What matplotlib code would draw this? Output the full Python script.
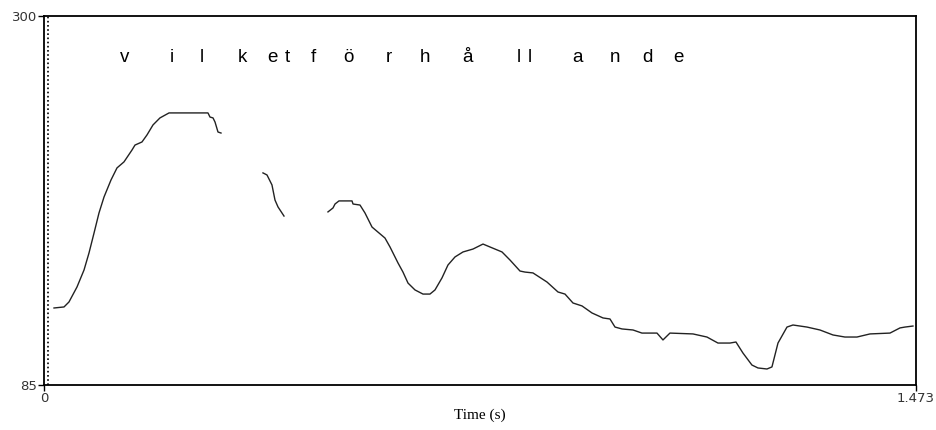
import matplotlib
matplotlib.use("Agg")
import matplotlib.pyplot as plt

# pitch contour (Hz) against time (s), three voiced stretches
t1 = [0.0169, 0.0338, 0.0422, 0.0557, 0.0676, 0.0760, 0.0845, 0.0929, 0.1014,
      0.1132, 0.1233, 0.1351, 0.1486, 0.1537, 0.1655, 0.1740, 0.1841, 0.1959,
      0.2112, 0.2770, 0.2804, 0.2855, 0.2889, 0.2939, 0.2990]
f1 = [130.1, 130.7, 133.6, 142.3, 152.2, 162.1, 173.7, 185.4, 194.7,
      204.6, 211.6, 215.1, 222.0, 224.9, 226.7, 230.8, 236.6, 240.7,
      243.6, 243.6, 241.2, 240.7, 238.3, 232.5, 231.9]

t2 = [0.3699, 0.3767, 0.3851, 0.3902, 0.3953, 0.4054]
f2 = [208.7, 207.5, 201.7, 192.9, 188.9, 183.6]

t3 = [0.4797, 0.4882, 0.4916, 0.4983, 0.5203, 0.5220, 0.5338, 0.5422, 0.5541,
      0.5760, 0.5845, 0.5980, 0.6064, 0.6149, 0.6267, 0.6402, 0.6520, 0.6605,
      0.6723, 0.6824, 0.6943, 0.7078, 0.7247, 0.7416, 0.7534, 0.7737, 0.7872,
      0.8041, 0.8125, 0.8260, 0.8497, 0.8683, 0.8801, 0.8936, 0.9088, 0.9257,
      0.9443, 0.9561, 0.9646, 0.9764, 0.9950, 1.0101, 1.0355, 1.0456, 1.0574,
      1.0963, 1.1199, 1.1385, 1.1588, 1.1689, 1.1807, 1.1959, 1.2061, 1.2213,
      1.2297, 1.2399, 1.2551, 1.2652, 1.2889, 1.3108, 1.3328, 1.3530, 1.3733,
      1.3953, 1.4291, 1.4460, 1.4544, 1.4679]
f3 = [186.0, 188.3, 190.6, 192.4, 192.4, 190.6, 190.0, 185.4, 177.2,
      170.8, 165.6, 156.3, 151.0, 144.6, 140.6, 138.2, 138.2, 140.6,
      147.6, 155.1, 159.8, 162.7, 164.4, 167.3, 165.6, 162.7, 158.0,
      151.6, 151.0, 150.5, 145.2, 139.4, 138.2, 133.0, 131.3, 127.2,
      124.3, 123.7, 119.0, 117.9, 117.3, 115.5, 115.5, 111.5, 115.5,
      115.0, 113.2, 109.7, 109.7, 110.3, 103.9, 96.9, 95.2, 94.6,
      95.8, 109.7, 119.0, 120.2, 119.0, 117.3, 114.4, 113.2, 113.2,
      115.0, 115.5, 118.5, 119.0, 119.6]

# segment labels and their time positions
letters = ["v", "i", "l", "k", "e", "t", "f", "ö", "r", "h", "å", "l", "l",
           "a", "n", "d", "e"]
letter_t = [0.1368, 0.2162, 0.2669, 0.3345, 0.3851, 0.4105, 0.4544, 0.5135,
            0.5828, 0.6436, 0.7162, 0.8024, 0.8210, 0.9020, 0.9646, 1.0186,
            1.0710]
letter_f = 276

t_max = 1.473
f_min, f_max = 85, 300

fig = plt.figure(figsize=(9.37, 4.30), dpi=100)
ax = fig.add_axes([0.04696, 0.1035, 0.9306, 0.8593])

for t, f in [(t1, f1), (t2, f2), (t3, f3)]:
    ax.plot(t, f, color="#222222", lw=1.0)

ax.axvline(0.0068, color="black", ls=(0, (1, 1.5)), lw=1.2)

for s, x in zip(letters, letter_t):
    ax.text(x, letter_f, s, ha="center", va="center", fontsize=13.5,
            family="Liberation Sans", color="black")

ax.set_xlim(0, t_max)
ax.set_ylim(f_min, f_max)
ax.set_xticks([0, t_max])
ax.set_xticklabels(["0", "1.473"])
ax.set_yticks([f_min, f_max])
ax.set_yticklabels(["85", "300"])
ax.tick_params(length=4, width=1, pad=1, labelsize=9.5, colors="black",
               labelcolor="#333333")
for sp in ax.spines.values():
    sp.set_linewidth(1.3)
ax.set_xlabel("Time (s)", family="Liberation Serif", fontsize=11, labelpad=2)

fig.savefig("out.png", dpi=100)
